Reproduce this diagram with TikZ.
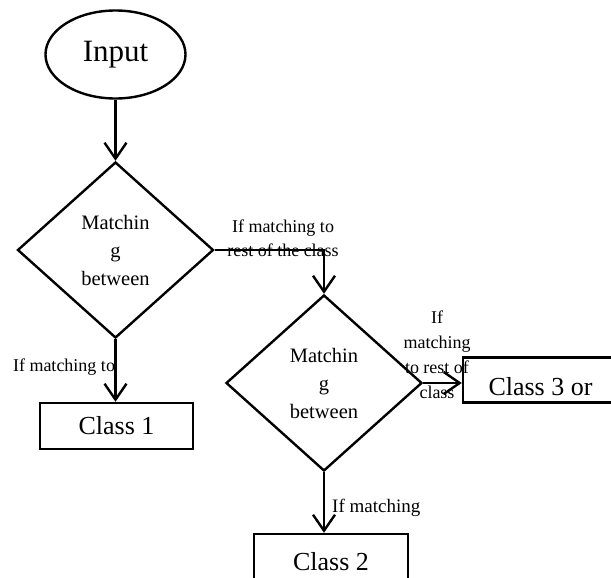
\documentclass[tikz,border=0pt]{standalone}
\usepackage{fontspec}
\setmainfont{Liberation Serif}
\usetikzlibrary{shapes.geometric,arrows.meta}
\tikzset{
  arr/.style={line width=2.4pt,-{Straight Barb[length=16pt,width=22pt,line width=2.4pt]}},
  dia/.style={draw,line width=2.4pt,diamond,minimum width=196pt,minimum height=176pt,inner sep=0pt,align=center,font=\fontsize{20.5}{28}\selectfont},
  cls/.style={draw,line width=2.4pt,rectangle,inner sep=0pt,font=\fontsize{26}{30}\selectfont},
  lbl/.style={inner sep=0pt,align=center,font=\fontsize{18}{24}\selectfont}
}
\begin{document}
\begin{tikzpicture}[x=1pt,y=-1pt]
\useasboundingbox (0,0) rectangle (611,578);
\clip (0,0) rectangle (611,578);
\node[draw,line width=2.4pt,ellipse,minimum width=140pt,minimum height=88pt,inner sep=0pt,font=\fontsize{31}{36}\selectfont] (in) at (115.5,54.5) {Input};
\node[dia] (d1) at (115.5,250) {Matchin\\g\\between};
\node[dia] (d2) at (324,383) {Matchin\\g\\between};
\node[cls,minimum width=153pt,minimum height=46pt] (c1) at (116.5,426) {Class 1};
\node[cls,minimum width=154pt,minimum height=60pt] (c2) at (331,564) {};
\node[font=\fontsize{26}{30}\selectfont,inner sep=0pt] (c2t) at (331,562) {Class 2};
\node[cls,minimum width=200pt,minimum height=45pt] (c3) at (563,380) {};
\begin{scope}
\clip (463,357) rectangle (611,395);
\node[font=\fontsize{26}{30}\selectfont,inner sep=0pt] (c3t) at (540.5,386.5) {Class 3 or};
\end{scope}
\coordinate (k) at (324,250);
\draw[arr] (in.south) -- (d1.north);
\draw[arr] (d1.south) -- (d1.south |- c1.north);
\draw[arr] (d1.east) -- (k) -- (d2.north);
\draw[arr] (d2.east) -- (d2.east -| c3.west);
\draw[arr] (d2.south) -- (d2.south |- c2.north);
\node[lbl] (l1) at (64,367) {If matching to};
\node[lbl] (l2) at (283,238.5) {If matching to\\rest of the class};
\node[lbl,font=\fontsize{18}{25}\selectfont] (l3) at (437,354.5) {If\\matching\\to rest of\\class};
\node[lbl,anchor=west,font=\fontsize{19}{24}\selectfont] (l4) at (332,508) {If matching};
\end{tikzpicture}
\end{document}
